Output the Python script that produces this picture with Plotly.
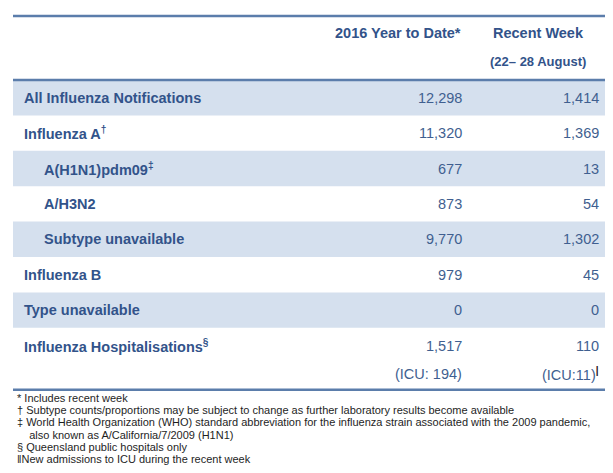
import plotly.graph_objects as go

# ---------------- data ----------------
categories = ["All Influenza Notifications", "Influenza A", "A(H1N1)pdm09", "A/H3N2",
              "Subtype unavailable", "Influenza B", "Type unavailable",
              "Influenza Hospitalisations"]
category_marks = ["", "†", "‡", "", "", "", "", "§"]
category_level = [0, 0, 1, 1, 1, 0, 0, 0]
year_to_date = [12298, 11320, 677, 873, 9770, 979, 0, 1517]
recent_week = [1414, 1369, 13, 54, 1302, 45, 0, 110]
icu_year_to_date = 194
icu_recent_week = 11
header_ytd = "2016 Year to Date*"
header_week = "Recent Week"
header_week_sub = "(22– 28 August)"
footnotes = [
    "* Includes recent week",
    "† Subtype counts/proportions may be subject to change as further laboratory results become available",
    "‡ World Health Organization (WHO) standard abbreviation for the influenza strain associated with the 2009 pandemic,",
    "   also known as A/California/7/2009 (H1N1)",
    "§ Queensland public hospitals only",
    "‖New admissions to ICU during the recent week",
]

# ---------------- layout constants ----------------
W, H = 613, 473
PAGE_OFF = 8          # browser body margin
TBL_L, TBL_R = 13, 605
TOP_LINE, HEAD_LINE = 16, 80
ROW_H = 35.4
LAST_ROW_H = 62
LABEL_X = [22, 42]
COL_YTD_X, COL_WEEK_X = 462, 599
TEXT_BLUE = "#32538a"
NUM_BLUE = "#3f5f90"
BAND = "#d5e0ee"
RULE = "#5b7dab"
FONT = "Liberation Sans, Arial, sans-serif"

fig = go.Figure()
fig.add_trace(go.Scatter(x=[PAGE_OFF, W], y=[PAGE_OFF, H], mode="markers",
                         marker=dict(opacity=0), hoverinfo="skip", showlegend=False))

shapes = []
annotations = []

def row_top(i):
    return HEAD_LINE + ROW_H * i

n = len(categories)
bottom = row_top(n - 1) + LAST_ROW_H

# bands for alternate rows
for i in range(n):
    if i % 2 == 0:
        top = row_top(i)
        bot = top + (ROW_H if i < n - 1 else LAST_ROW_H)
        shapes.append(dict(type="rect", xref="x", yref="y", x0=TBL_L, x1=TBL_R,
                           y0=top, y1=bot, fillcolor=BAND, line=dict(width=0), layer="below"))

for yy in (TOP_LINE, HEAD_LINE, bottom):
    shapes.append(dict(type="line", xref="x", yref="y", x0=TBL_L, x1=TBL_R,
                       y0=yy, y1=yy, line=dict(color=RULE, width=2.5)))

def ann(x, y, text, size, color, xanchor, bold=False):
    annotations.append(dict(x=x, y=y, xref="x", yref="y", text=(f"<b>{text}</b>" if bold else text),
                            showarrow=False, xanchor=xanchor, yanchor="middle",
                            font=dict(family=FONT, size=size, color=color)))

# header
ann(COL_YTD_X + 1, 33, header_ytd, 14.5, TEXT_BLUE, "right", True)
ann(538, 33, header_week, 14.5, TEXT_BLUE, "center", True)
ann(538, 61, header_week_sub, 13, TEXT_BLUE, "center", True)

for i, (lab, mk, lv, a, b) in enumerate(zip(categories, category_marks, category_level,
                                           year_to_date, recent_week)):
    yc = row_top(i) + ROW_H / 2
    txt = f"<b>{lab}" + (f"<sup>{mk}</sup>" if mk else "") + "</b>"
    annotations.append(dict(x=LABEL_X[lv], y=yc, xref="x", yref="y", text=txt, showarrow=False,
                            xanchor="left", yanchor="middle",
                            font=dict(family=FONT, size=14.5, color=TEXT_BLUE)))
    ann(COL_YTD_X + 2, yc, f"{a:,}", 14.5, NUM_BLUE, "right")
    ann(COL_WEEK_X + 2, yc, f"{b:,}", 14.5, NUM_BLUE, "right")

# ICU line in last row
y_icu = row_top(n - 1) + ROW_H / 2 + 28.5
ann(COL_YTD_X + 2, y_icu, f"(ICU: {icu_year_to_date})", 14.5, NUM_BLUE, "right")
annotations.append(dict(x=COL_WEEK_X + 2, y=y_icu, xref="x", yref="y",
                        text=f"(ICU:{icu_recent_week})<sup><span style='color:#2a1420'><b>|</b></span></sup>",
                        showarrow=False, xanchor="right", yanchor="middle",
                        font=dict(family=FONT, size=14.5, color=NUM_BLUE)))

# footnotes
for k, f in enumerate(footnotes):
    ann(15, bottom + 8 + 12.3 * k, f.replace("   ", "&nbsp;&nbsp;&nbsp;&nbsp;"), 11, "#1e1e1e", "left")

fig.update_layout(
    width=W - PAGE_OFF, height=H - PAGE_OFF, margin=dict(l=0, r=0, t=0, b=0),
    paper_bgcolor="white", plot_bgcolor="white",
    xaxis=dict(range=[PAGE_OFF, W], visible=False, fixedrange=True),
    yaxis=dict(range=[H, PAGE_OFF], visible=False, fixedrange=True),
    shapes=shapes, annotations=annotations, showlegend=False,
)
fig.write_html("out.html")
